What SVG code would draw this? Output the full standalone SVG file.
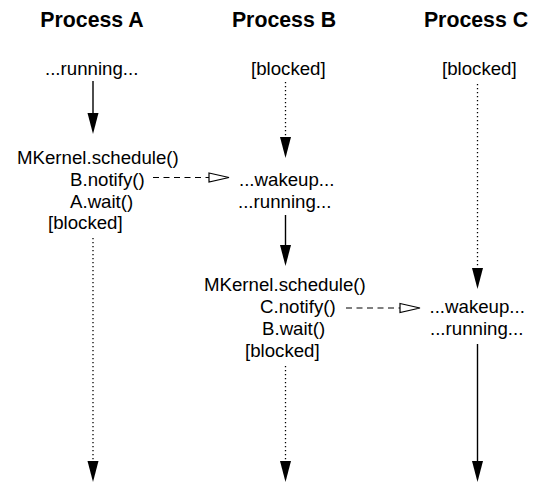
<svg xmlns="http://www.w3.org/2000/svg" width="539" height="482" viewBox="0 0 539 482">
<style>
text{font-family:"Liberation Sans",Arial,sans-serif;fill:#000}
.t{font-size:21.3px;font-weight:bold;text-anchor:middle}
.b{font-size:18.67px}
.solid{stroke:#000;stroke-width:1.4;fill:none}
.dot{stroke:#000;stroke-width:1.3;fill:none;stroke-dasharray:1.3 2.7}
.dash{stroke:#000;stroke-width:1.2;fill:none;stroke-dasharray:6 4.5}
</style>
<defs>
<marker id="ah" markerUnits="userSpaceOnUse" viewBox="0 -6 22 12" markerWidth="22" markerHeight="12" refX="0" refY="0" orient="auto">
<path d="M0,-5.5 L21,0 L0,5.5 z" fill="#000"/>
</marker>
<marker id="oh" markerUnits="userSpaceOnUse" viewBox="-1 -6 23 12" markerWidth="23" markerHeight="12" refX="0" refY="0" orient="auto">
<path d="M0,-4.5 L20,0 L0,4.5 z" fill="#fff" stroke="#000" stroke-width="1.2"/>
</marker>
</defs>
<g id="titles">
<text class="t" x="92" y="27">Process A</text>
<text class="t" x="284" y="27">Process B</text>
<text class="t" x="476" y="27">Process C</text>
</g>
<g id="a-running"><text class="b" x="45" y="75">...running...</text></g>
<g id="a-block">
<text class="b" x="17" y="164">MKernel.schedule()</text>
<text class="b" x="70" y="186">B.notify()</text>
<text class="b" x="70" y="207.5">A.wait()</text>
<text class="b" x="48" y="229">[blocked]</text>
</g>
<g id="b-blocked"><text class="b" x="251" y="75">[blocked]</text></g>
<g id="b-wakeup">
<text class="b" x="239" y="186">...wakeup...</text>
<text class="b" x="238" y="207.5">...running...</text>
</g>
<g id="b-block">
<text class="b" x="204" y="290.5">MKernel.schedule()</text>
<text class="b" x="260" y="312.5">C.notify()</text>
<text class="b" x="262" y="334.5">B.wait()</text>
<text class="b" x="245" y="356.5">[blocked]</text>
</g>
<g id="c-blocked"><text class="b" x="442" y="75">[blocked]</text></g>
<g id="c-wakeup">
<text class="b" x="429.5" y="312.5">...wakeup...</text>
<text class="b" x="430" y="334.5">...running...</text>
</g>
<g id="connectors">
<line class="solid" x1="93" y1="81" x2="93" y2="113" marker-end="url(#ah)"/>
<line class="dot" x1="93" y1="238" x2="93" y2="461" marker-end="url(#ah)"/>
<line class="dot" x1="285.5" y1="82" x2="285.5" y2="137" marker-end="url(#ah)"/>
<line class="solid" x1="285.5" y1="215" x2="285.5" y2="245" marker-end="url(#ah)"/>
<line class="dot" x1="285.5" y1="366" x2="285.5" y2="461" marker-end="url(#ah)"/>
<line class="dot" x1="477.5" y1="84" x2="477.5" y2="268" marker-end="url(#ah)"/>
<line class="solid" x1="477.5" y1="344" x2="477.5" y2="461" marker-end="url(#ah)"/>
<line class="dash" x1="153" y1="177.5" x2="209" y2="177.5" marker-end="url(#oh)"/>
<line class="dash" x1="346" y1="308" x2="400" y2="308" marker-end="url(#oh)"/>
</g>
</svg>
